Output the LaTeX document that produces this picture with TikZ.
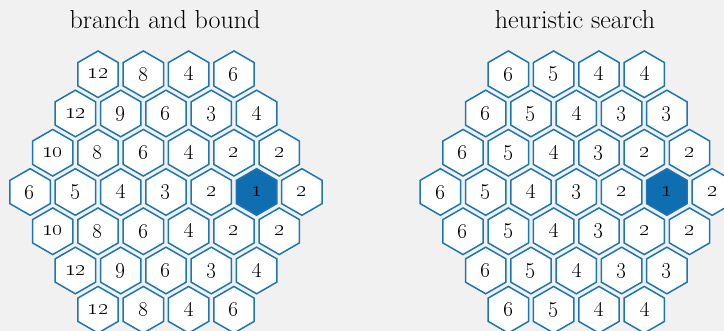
\RequirePackage{fix-cm}
\documentclass[tikz,border=0pt]{standalone}
\usepackage{tikz}
\usetikzlibrary{shapes.geometric}
\definecolor{hexblue}{RGB}{28,117,184}
\definecolor{goalblue}{RGB}{14,110,176}
\definecolor{bggray}{RGB}{241,241,241}

\begin{document}
\begin{tikzpicture}[
    x=1pt, y=1pt,
    every node/.style={font=\fontsize{22}{22}\selectfont},
    title/.style={font=\fontsize{26}{26}\selectfont, anchor=base},
    hexcell/.style={regular polygon, regular polygon sides=6, shape border rotate=30,
      draw=hexblue, fill=white, line width=1.5pt, minimum size=46.6pt, inner sep=0pt},
    goalcell/.style={hexcell, fill=goalblue}
  ]
  \fill[bggray] (0,0) rectangle (724,331);
  \useasboundingbox (0,0) rectangle (724,331);

  \node[title] (bbtitle) at (165,302) {branch and bound};
  \node[title] (hstitle) at (575,302) {heuristic search};

  % branch and bound board
  \begin{scope}[shift={(166,139)}]
    \foreach \vals [count=\row from -3] in {{12,8,4,6},{12,9,6,3,4},{10,8,6,4,2,2},
        {6,5,4,3,2,1,2},{10,8,6,4,2,2},{12,9,6,3,4},{12,8,4,6}} {
      \foreach \v [count=\i from 0] in \vals {
        \def\cellstyle{hexcell}
        \ifnum\row=0 \ifnum\i=5 \def\cellstyle{goalcell}\fi\fi
        \node[\cellstyle] (bb\row-\i) at ({(\i-(6-abs(\row))/2)*45.3}, {-\row*39.25}) {\oldstylenums{\v}};
      }
    }
  \end{scope}

  % heuristic search board
  \begin{scope}[shift={(576.3,139)}]
    \foreach \vals [count=\row from -3] in {{6,5,4,4},{6,5,4,3,3},{6,5,4,3,2,2},
        {6,5,4,3,2,1,2},{6,5,4,3,2,2},{6,5,4,3,3},{6,5,4,4}} {
      \foreach \v [count=\i from 0] in \vals {
        \def\cellstyle{hexcell}
        \ifnum\row=0 \ifnum\i=5 \def\cellstyle{goalcell}\fi\fi
        \node[\cellstyle] (hs\row-\i) at ({(\i-(6-abs(\row))/2)*45.3}, {-\row*39.25}) {\oldstylenums{\v}};
      }
    }
  \end{scope}
\end{tikzpicture}
\end{document}
